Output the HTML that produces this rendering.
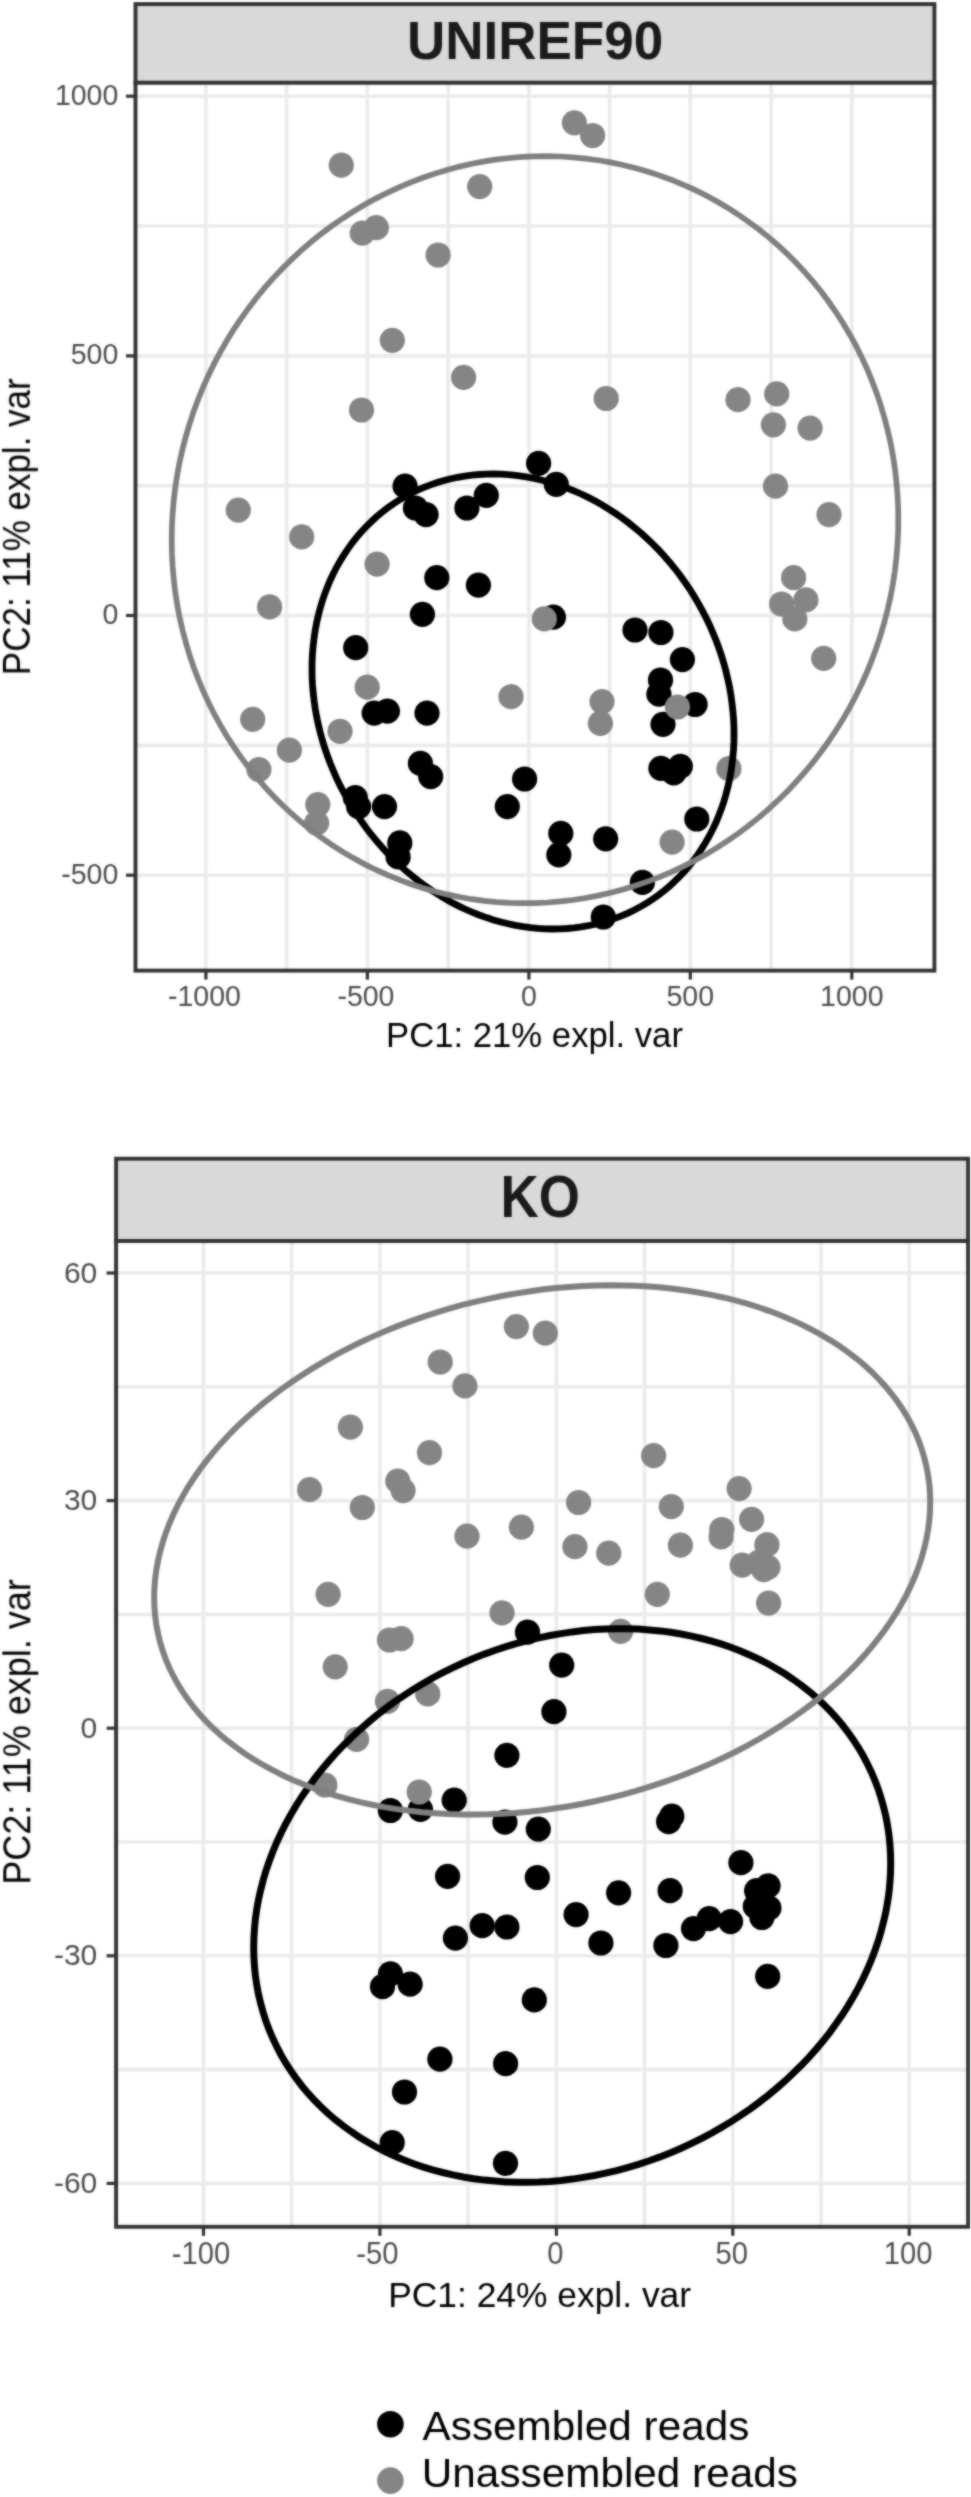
<!DOCTYPE html>
<html>
<head>
<meta charset="utf-8">
<title>PCA plots</title>
<style>
html,body{margin:0;padding:0;background:#fff;}
svg{display:block;font-family:"Liberation Sans",sans-serif;}
</style>
</head>
<body>
<svg width="971" height="2497" viewBox="0 0 971 2497">
<defs><filter id="soft" x="0" y="0" width="971" height="2497" filterUnits="userSpaceOnUse" color-interpolation-filters="sRGB"><feGaussianBlur in="SourceGraphic" stdDeviation="1" result="b"/><feComposite in="SourceGraphic" in2="b" operator="arithmetic" k1="0" k2="0.4" k3="0.6" k4="0"/></filter></defs>
<g filter="url(#soft)">
<rect x="0" y="0" width="971" height="2497" fill="#ffffff"/>
<rect x="135.5" y="4.1" width="798.9" height="78.7" fill="#d9d9d9" stroke="#333333" stroke-width="3.9"/>
<rect x="135.5" y="82.8" width="798.9" height="887.8000000000001" fill="#ffffff"/>
<line x1="205.9" y1="82.8" x2="205.9" y2="970.6" stroke="#ebebeb" stroke-width="3.6"/>
<line x1="286.6" y1="82.8" x2="286.6" y2="970.6" stroke="#ebebeb" stroke-width="3.6"/>
<line x1="367.4" y1="82.8" x2="367.4" y2="970.6" stroke="#ebebeb" stroke-width="3.6"/>
<line x1="448.1" y1="82.8" x2="448.1" y2="970.6" stroke="#ebebeb" stroke-width="3.6"/>
<line x1="528.9" y1="82.8" x2="528.9" y2="970.6" stroke="#ebebeb" stroke-width="3.6"/>
<line x1="609.6" y1="82.8" x2="609.6" y2="970.6" stroke="#ebebeb" stroke-width="3.6"/>
<line x1="690.3" y1="82.8" x2="690.3" y2="970.6" stroke="#ebebeb" stroke-width="3.6"/>
<line x1="771.1" y1="82.8" x2="771.1" y2="970.6" stroke="#ebebeb" stroke-width="3.6"/>
<line x1="851.8" y1="82.8" x2="851.8" y2="970.6" stroke="#ebebeb" stroke-width="3.6"/>
<line x1="135.5" y1="96.2" x2="934.4" y2="96.2" stroke="#ebebeb" stroke-width="3.6"/>
<line x1="135.5" y1="226.0" x2="934.4" y2="226.0" stroke="#ebebeb" stroke-width="3.6"/>
<line x1="135.5" y1="355.9" x2="934.4" y2="355.9" stroke="#ebebeb" stroke-width="3.6"/>
<line x1="135.5" y1="485.7" x2="934.4" y2="485.7" stroke="#ebebeb" stroke-width="3.6"/>
<line x1="135.5" y1="615.5" x2="934.4" y2="615.5" stroke="#ebebeb" stroke-width="3.6"/>
<line x1="135.5" y1="745.4" x2="934.4" y2="745.4" stroke="#ebebeb" stroke-width="3.6"/>
<line x1="135.5" y1="875.2" x2="934.4" y2="875.2" stroke="#ebebeb" stroke-width="3.6"/>
<clipPath id="cUNIREF90"><rect x="135.5" y="82.8" width="798.9" height="887.8000000000001"/></clipPath>
<g clip-path="url(#cUNIREF90)">
<g fill="#000000"><circle cx="405.1" cy="486.2" r="12.6"/><circle cx="415.4" cy="508.0" r="12.6"/><circle cx="426.1" cy="514.6" r="12.6"/><circle cx="466.9" cy="508.0" r="12.6"/><circle cx="486.3" cy="495.3" r="12.6"/><circle cx="538.6" cy="463.3" r="12.6"/><circle cx="556.3" cy="484.3" r="12.6"/><circle cx="436.8" cy="577.7" r="12.6"/><circle cx="478.4" cy="585.1" r="12.6"/><circle cx="422.4" cy="614.3" r="12.6"/><circle cx="355.7" cy="647.7" r="12.6"/><circle cx="553.4" cy="617.2" r="12.6"/><circle cx="635.0" cy="630.0" r="12.6"/><circle cx="660.9" cy="632.5" r="12.6"/><circle cx="682.4" cy="659.6" r="12.6"/><circle cx="660.5" cy="680.0" r="12.6"/><circle cx="658.9" cy="694.2" r="12.6"/><circle cx="695.1" cy="704.5" r="12.6"/><circle cx="663.0" cy="724.3" r="12.6"/><circle cx="660.9" cy="768.3" r="12.6"/><circle cx="680.3" cy="766.3" r="12.6"/><circle cx="673.7" cy="772.9" r="12.6"/><circle cx="696.8" cy="819.0" r="12.6"/><circle cx="560.8" cy="833.4" r="12.6"/><circle cx="558.8" cy="854.8" r="12.6"/><circle cx="605.7" cy="838.8" r="12.6"/><circle cx="642.4" cy="882.4" r="12.6"/><circle cx="603.3" cy="917.0" r="12.6"/><circle cx="374.2" cy="713.1" r="12.6"/><circle cx="387.4" cy="711.1" r="12.6"/><circle cx="427.0" cy="713.1" r="12.6"/><circle cx="420.4" cy="763.4" r="12.6"/><circle cx="430.7" cy="776.6" r="12.6"/><circle cx="524.6" cy="779.0" r="12.6"/><circle cx="507.3" cy="806.6" r="12.6"/><circle cx="355.3" cy="797.6" r="12.6"/><circle cx="358.6" cy="806.6" r="12.6"/><circle cx="384.5" cy="806.6" r="12.6"/><circle cx="399.8" cy="842.9" r="12.6"/><circle cx="398.1" cy="856.9" r="12.6"/></g>
<g fill="#858585"><circle cx="341.3" cy="165.2" r="12.6"/><circle cx="479.7" cy="186.6" r="12.6"/><circle cx="362.3" cy="233.2" r="12.6"/><circle cx="376.3" cy="227.7" r="12.6"/><circle cx="438.1" cy="255.0" r="12.6"/><circle cx="392.3" cy="340.3" r="12.6"/><circle cx="463.6" cy="377.4" r="12.6"/><circle cx="574.4" cy="122.8" r="12.6"/><circle cx="592.6" cy="135.5" r="12.6"/><circle cx="361.5" cy="410.0" r="12.6"/><circle cx="238.3" cy="510.1" r="12.6"/><circle cx="301.7" cy="536.9" r="12.6"/><circle cx="377.1" cy="564.1" r="12.6"/><circle cx="269.6" cy="606.9" r="12.6"/><circle cx="606.2" cy="398.5" r="12.6"/><circle cx="738.0" cy="399.7" r="12.6"/><circle cx="776.7" cy="393.9" r="12.6"/><circle cx="773.4" cy="424.8" r="12.6"/><circle cx="810.1" cy="428.1" r="12.6"/><circle cx="775.5" cy="486.2" r="12.6"/><circle cx="829.0" cy="514.6" r="12.6"/><circle cx="793.6" cy="577.7" r="12.6"/><circle cx="781.6" cy="604.0" r="12.6"/><circle cx="805.9" cy="599.9" r="12.6"/><circle cx="794.8" cy="618.9" r="12.6"/><circle cx="823.7" cy="658.4" r="12.6"/><circle cx="544.3" cy="618.9" r="12.6"/><circle cx="367.2" cy="687.2" r="12.6"/><circle cx="252.7" cy="719.3" r="12.6"/><circle cx="511.0" cy="696.7" r="12.6"/><circle cx="340.0" cy="731.3" r="12.6"/><circle cx="289.4" cy="750.2" r="12.6"/><circle cx="258.9" cy="769.6" r="12.6"/><circle cx="317.8" cy="804.6" r="12.6"/><circle cx="316.6" cy="823.1" r="12.6"/><circle cx="602.0" cy="701.6" r="12.6"/><circle cx="600.4" cy="723.4" r="12.6"/><circle cx="677.4" cy="707.0" r="12.6"/><circle cx="728.9" cy="768.7" r="12.6"/><circle cx="672.1" cy="842.1" r="12.6"/></g>
<path d="M734.0,734.1 L733.9,741.9 L733.5,749.7 L732.8,757.4 L731.9,765.1 L730.8,772.7 L729.4,780.2 L727.7,787.6 L725.8,794.9 L723.7,802.0 L721.3,809.1 L718.6,816.0 L715.8,822.8 L712.6,829.5 L709.3,836.0 L705.7,842.3 L701.9,848.4 L697.9,854.4 L693.7,860.2 L689.3,865.8 L684.6,871.2 L679.8,876.4 L674.8,881.3 L669.6,886.1 L664.2,890.6 L658.6,894.9 L652.9,899.0 L647.0,902.8 L641.0,906.4 L634.8,909.7 L628.5,912.8 L622.1,915.6 L615.5,918.1 L608.8,920.4 L602.0,922.5 L595.2,924.2 L588.2,925.7 L581.2,926.9 L574.0,927.8 L566.9,928.5 L559.6,928.9 L552.4,929.0 L545.1,928.8 L537.7,928.4 L530.4,927.7 L523.0,926.7 L515.6,925.4 L508.3,923.8 L500.9,922.0 L493.6,919.9 L486.4,917.6 L479.1,915.0 L472.0,912.1 L464.8,909.0 L457.8,905.6 L450.8,901.9 L444.0,898.1 L437.2,893.9 L430.5,889.6 L423.9,885.0 L417.5,880.2 L411.2,875.2 L405.0,870.0 L399.0,864.5 L393.1,858.9 L387.4,853.1 L381.8,847.0 L376.4,840.8 L371.2,834.5 L366.2,828.0 L361.4,821.3 L356.7,814.5 L352.3,807.5 L348.1,800.4 L344.1,793.2 L340.3,785.9 L336.7,778.5 L333.4,770.9 L330.2,763.3 L327.4,755.7 L324.7,747.9 L322.3,740.1 L320.2,732.3 L318.3,724.4 L316.6,716.5 L315.2,708.5 L314.1,700.6 L313.2,692.7 L312.5,684.7 L312.1,676.8 L312.0,668.9 L312.1,661.1 L312.5,653.3 L313.2,645.6 L314.1,637.9 L315.2,630.3 L316.6,622.8 L318.3,615.4 L320.2,608.1 L322.3,601.0 L324.7,593.9 L327.4,587.0 L330.2,580.2 L333.4,573.5 L336.7,567.0 L340.3,560.7 L344.1,554.6 L348.1,548.6 L352.3,542.8 L356.7,537.2 L361.4,531.8 L366.2,526.6 L371.2,521.7 L376.4,516.9 L381.8,512.4 L387.4,508.1 L393.1,504.0 L399.0,500.2 L405.0,496.6 L411.2,493.3 L417.5,490.2 L423.9,487.4 L430.5,484.9 L437.2,482.6 L444.0,480.5 L450.8,478.8 L457.8,477.3 L464.8,476.1 L472.0,475.2 L479.1,474.5 L486.4,474.1 L493.6,474.0 L500.9,474.2 L508.3,474.6 L515.6,475.3 L523.0,476.3 L530.4,477.6 L537.7,479.2 L545.1,481.0 L552.4,483.1 L559.6,485.4 L566.9,488.0 L574.0,490.9 L581.2,494.0 L588.2,497.4 L595.2,501.1 L602.0,504.9 L608.8,509.1 L615.5,513.4 L622.1,518.0 L628.5,522.8 L634.8,527.8 L641.0,533.0 L647.0,538.5 L652.9,544.1 L658.6,549.9 L664.2,556.0 L669.6,562.2 L674.8,568.5 L679.8,575.0 L684.6,581.7 L689.3,588.5 L693.7,595.5 L697.9,602.6 L701.9,609.8 L705.7,617.1 L709.3,624.5 L712.6,632.1 L715.8,639.7 L718.6,647.3 L721.3,655.1 L723.7,662.9 L725.8,670.7 L727.7,678.6 L729.4,686.5 L730.8,694.5 L731.9,702.4 L732.8,710.3 L733.5,718.3 L733.9,726.2 Z" fill="none" stroke="#000000" stroke-width="6.8"/>
<path d="M898.3,519.5 L898.1,532.6 L897.4,545.6 L896.3,558.6 L894.8,571.6 L892.8,584.5 L890.4,597.4 L887.5,610.1 L884.2,622.8 L880.5,635.4 L876.4,647.8 L871.8,660.1 L866.9,672.3 L861.5,684.2 L855.8,696.0 L849.6,707.6 L843.1,718.9 L836.2,730.0 L828.9,740.9 L821.3,751.5 L813.3,761.9 L805.0,772.0 L796.3,781.7 L787.4,791.2 L778.1,800.3 L768.5,809.2 L758.7,817.6 L748.5,825.8 L738.2,833.5 L727.5,840.9 L716.7,847.9 L705.6,854.6 L694.3,860.8 L682.8,866.6 L671.1,872.1 L659.3,877.1 L647.3,881.6 L635.1,885.8 L622.9,889.5 L610.5,892.8 L598.1,895.6 L585.6,898.0 L573.0,900.0 L560.3,901.4 L547.7,902.5 L535.0,903.1 L522.3,903.2 L509.7,902.9 L497.0,902.1 L484.4,900.8 L471.9,899.2 L459.5,897.0 L447.1,894.4 L434.9,891.4 L422.7,887.9 L410.7,884.0 L398.9,879.7 L387.2,874.9 L375.7,869.7 L364.4,864.1 L353.4,858.1 L342.5,851.7 L331.8,844.9 L321.5,837.7 L311.3,830.2 L301.5,822.3 L291.9,814.0 L282.6,805.3 L273.7,796.4 L265.0,787.1 L256.7,777.5 L248.7,767.6 L241.1,757.4 L233.8,746.9 L226.9,736.2 L220.4,725.2 L214.2,714.0 L208.5,702.5 L203.1,690.9 L198.2,679.0 L193.6,667.0 L189.5,654.8 L185.8,642.4 L182.5,629.9 L179.6,617.3 L177.2,604.6 L175.2,591.7 L173.7,578.9 L172.6,565.9 L171.9,552.9 L171.7,539.9 L171.9,526.8 L172.6,513.8 L173.7,500.8 L175.2,487.8 L177.2,474.9 L179.6,462.0 L182.5,449.3 L185.8,436.6 L189.5,424.0 L193.6,411.6 L198.2,399.3 L203.1,387.1 L208.5,375.2 L214.2,363.4 L220.4,351.8 L226.9,340.5 L233.8,329.4 L241.1,318.5 L248.7,307.9 L256.7,297.5 L265.0,287.4 L273.7,277.7 L282.6,268.2 L291.9,259.1 L301.5,250.2 L311.3,241.8 L321.5,233.6 L331.8,225.9 L342.5,218.5 L353.3,211.5 L364.4,204.8 L375.7,198.6 L387.2,192.8 L398.9,187.3 L410.7,182.3 L422.7,177.8 L434.9,173.6 L447.1,169.9 L459.5,166.6 L471.9,163.8 L484.4,161.4 L497.0,159.4 L509.7,158.0 L522.3,156.9 L535.0,156.3 L547.7,156.2 L560.3,156.5 L573.0,157.3 L585.6,158.6 L598.1,160.2 L610.5,162.4 L622.9,165.0 L635.1,168.0 L647.3,171.5 L659.3,175.4 L671.1,179.7 L682.8,184.5 L694.3,189.7 L705.6,195.3 L716.7,201.3 L727.5,207.7 L738.2,214.5 L748.5,221.7 L758.7,229.2 L768.5,237.1 L778.1,245.4 L787.4,254.1 L796.3,263.0 L805.0,272.3 L813.3,281.9 L821.3,291.8 L828.9,302.0 L836.2,312.5 L843.1,323.2 L849.6,334.2 L855.8,345.4 L861.5,356.9 L866.9,368.5 L871.8,380.4 L876.4,392.4 L880.5,404.6 L884.2,417.0 L887.5,429.5 L890.4,442.1 L892.8,454.8 L894.8,467.7 L896.3,480.5 L897.4,493.5 L898.1,506.5 Z" fill="none" stroke="#7f7f7f" stroke-width="5.7"/>
</g>
<rect x="135.5" y="82.8" width="798.9" height="887.8000000000001" fill="none" stroke="#333333" stroke-width="3.9"/>
<line x1="205.9" y1="970.6" x2="205.9" y2="979.6" stroke="#333333" stroke-width="3.2"/>
<text transform="translate(204.4,1006.2) scale(1,1.06)" font-size="28.5" fill="#4d4d4d" text-anchor="middle">-1000</text>
<line x1="367.4" y1="970.6" x2="367.4" y2="979.6" stroke="#333333" stroke-width="3.2"/>
<text transform="translate(365.9,1006.2) scale(1,1.06)" font-size="28.5" fill="#4d4d4d" text-anchor="middle">-500</text>
<line x1="528.9" y1="970.6" x2="528.9" y2="979.6" stroke="#333333" stroke-width="3.2"/>
<text transform="translate(528.9,1006.2) scale(1,1.06)" font-size="28.5" fill="#4d4d4d" text-anchor="middle">0</text>
<line x1="690.3" y1="970.6" x2="690.3" y2="979.6" stroke="#333333" stroke-width="3.2"/>
<text transform="translate(690.3,1006.2) scale(1,1.06)" font-size="28.5" fill="#4d4d4d" text-anchor="middle">500</text>
<line x1="851.8" y1="970.6" x2="851.8" y2="979.6" stroke="#333333" stroke-width="3.2"/>
<text transform="translate(851.8,1006.2) scale(1,1.06)" font-size="28.5" fill="#4d4d4d" text-anchor="middle">1000</text>
<line x1="126.0" y1="96.2" x2="135.5" y2="96.2" stroke="#333333" stroke-width="3.2"/>
<text transform="translate(118.3,104.6) scale(1,1.03)" font-size="28.5" fill="#4d4d4d" text-anchor="end">1000</text>
<line x1="126.0" y1="355.9" x2="135.5" y2="355.9" stroke="#333333" stroke-width="3.2"/>
<text transform="translate(118.3,364.3) scale(1,1.03)" font-size="28.5" fill="#4d4d4d" text-anchor="end">500</text>
<line x1="126.0" y1="615.5" x2="135.5" y2="615.5" stroke="#333333" stroke-width="3.2"/>
<text transform="translate(118.3,623.9) scale(1,1.03)" font-size="28.5" fill="#4d4d4d" text-anchor="end">0</text>
<line x1="126.0" y1="875.2" x2="135.5" y2="875.2" stroke="#333333" stroke-width="3.2"/>
<text transform="translate(118.3,883.6) scale(1,1.03)" font-size="28.5" fill="#4d4d4d" text-anchor="end">-500</text>
<text transform="translate(535.0,58.5) scale(1,1.0)" font-size="53" font-weight="bold" fill="#1a1a1a" text-anchor="middle">UNIREF90</text>
<text x="534.5" y="1047.0" font-size="34.7" fill="#000" text-anchor="middle">PC1: 21% expl. var</text>
<text transform="translate(30,526.7) rotate(-90) scale(1,1.12)" font-size="35.0" fill="#000" text-anchor="middle">PC2: 11% expl. var</text>
<rect x="116.1" y="1158.7" width="852.0" height="82.29999999999995" fill="#d9d9d9" stroke="#333333" stroke-width="3.9"/>
<rect x="116.1" y="1241.0" width="852.0" height="985.8000000000002" fill="#ffffff"/>
<line x1="203.5" y1="1241.0" x2="203.5" y2="2226.8" stroke="#ebebeb" stroke-width="3.6"/>
<line x1="291.7" y1="1241.0" x2="291.7" y2="2226.8" stroke="#ebebeb" stroke-width="3.6"/>
<line x1="379.9" y1="1241.0" x2="379.9" y2="2226.8" stroke="#ebebeb" stroke-width="3.6"/>
<line x1="468.1" y1="1241.0" x2="468.1" y2="2226.8" stroke="#ebebeb" stroke-width="3.6"/>
<line x1="556.3" y1="1241.0" x2="556.3" y2="2226.8" stroke="#ebebeb" stroke-width="3.6"/>
<line x1="644.5" y1="1241.0" x2="644.5" y2="2226.8" stroke="#ebebeb" stroke-width="3.6"/>
<line x1="732.8" y1="1241.0" x2="732.8" y2="2226.8" stroke="#ebebeb" stroke-width="3.6"/>
<line x1="821.0" y1="1241.0" x2="821.0" y2="2226.8" stroke="#ebebeb" stroke-width="3.6"/>
<line x1="909.2" y1="1241.0" x2="909.2" y2="2226.8" stroke="#ebebeb" stroke-width="3.6"/>
<line x1="116.1" y1="1273.0" x2="968.1" y2="1273.0" stroke="#ebebeb" stroke-width="3.6"/>
<line x1="116.1" y1="1386.8" x2="968.1" y2="1386.8" stroke="#ebebeb" stroke-width="3.6"/>
<line x1="116.1" y1="1500.6" x2="968.1" y2="1500.6" stroke="#ebebeb" stroke-width="3.6"/>
<line x1="116.1" y1="1614.4" x2="968.1" y2="1614.4" stroke="#ebebeb" stroke-width="3.6"/>
<line x1="116.1" y1="1728.2" x2="968.1" y2="1728.2" stroke="#ebebeb" stroke-width="3.6"/>
<line x1="116.1" y1="1842.0" x2="968.1" y2="1842.0" stroke="#ebebeb" stroke-width="3.6"/>
<line x1="116.1" y1="1955.8" x2="968.1" y2="1955.8" stroke="#ebebeb" stroke-width="3.6"/>
<line x1="116.1" y1="2069.6" x2="968.1" y2="2069.6" stroke="#ebebeb" stroke-width="3.6"/>
<line x1="116.1" y1="2183.4" x2="968.1" y2="2183.4" stroke="#ebebeb" stroke-width="3.6"/>
<clipPath id="cKO"><rect x="116.1" y="1241.0" width="852.0" height="985.8000000000002"/></clipPath>
<g clip-path="url(#cKO)">
<g fill="#000000"><circle cx="527.5" cy="1632.2" r="12.6"/><circle cx="506.9" cy="1755.3" r="12.6"/><circle cx="454.2" cy="1800.2" r="12.6"/><circle cx="390.4" cy="1810.5" r="12.6"/><circle cx="420.4" cy="1809.3" r="12.6"/><circle cx="504.9" cy="1822.1" r="12.6"/><circle cx="538.3" cy="1829.1" r="12.6"/><circle cx="561.7" cy="1665.1" r="12.6"/><circle cx="553.9" cy="1711.7" r="12.6"/><circle cx="671.8" cy="1816.2" r="12.6"/><circle cx="668.6" cy="1821.7" r="12.6"/><circle cx="447.6" cy="1876.3" r="12.6"/><circle cx="537.3" cy="1877.5" r="12.6"/><circle cx="482.2" cy="1925.7" r="12.6"/><circle cx="506.9" cy="1927.0" r="12.6"/><circle cx="455.4" cy="1938.1" r="12.6"/><circle cx="390.4" cy="1973.9" r="12.6"/><circle cx="382.5" cy="1986.7" r="12.6"/><circle cx="410.1" cy="1984.2" r="12.6"/><circle cx="534.3" cy="1999.9" r="12.6"/><circle cx="439.9" cy="2059.2" r="12.6"/><circle cx="505.6" cy="2063.7" r="12.6"/><circle cx="404.5" cy="2092.0" r="12.6"/><circle cx="392.2" cy="2142.7" r="12.6"/><circle cx="505.5" cy="2163.3" r="12.6"/><circle cx="740.9" cy="1862.7" r="12.6"/><circle cx="618.6" cy="1892.8" r="12.6"/><circle cx="670.1" cy="1890.7" r="12.6"/><circle cx="768.1" cy="1885.8" r="12.6"/><circle cx="756.6" cy="1890.7" r="12.6"/><circle cx="768.9" cy="1908.0" r="12.6"/><circle cx="755.3" cy="1906.4" r="12.6"/><circle cx="761.9" cy="1917.5" r="12.6"/><circle cx="576.1" cy="1914.6" r="12.6"/><circle cx="600.9" cy="1943.0" r="12.6"/><circle cx="665.9" cy="1945.5" r="12.6"/><circle cx="693.5" cy="1928.6" r="12.6"/><circle cx="709.2" cy="1918.7" r="12.6"/><circle cx="730.6" cy="1921.6" r="12.6"/><circle cx="767.7" cy="1976.4" r="12.6"/></g>
<g fill="#858585"><circle cx="516.4" cy="1326.6" r="12.6"/><circle cx="545.3" cy="1333.2" r="12.6"/><circle cx="440.2" cy="1362.0" r="12.6"/><circle cx="464.9" cy="1385.9" r="12.6"/><circle cx="350.4" cy="1427.1" r="12.6"/><circle cx="429.5" cy="1452.7" r="12.6"/><circle cx="309.6" cy="1489.7" r="12.6"/><circle cx="397.8" cy="1481.1" r="12.6"/><circle cx="403.1" cy="1490.6" r="12.6"/><circle cx="362.3" cy="1507.5" r="12.6"/><circle cx="467.0" cy="1536.2" r="12.6"/><circle cx="521.4" cy="1527.2" r="12.6"/><circle cx="653.6" cy="1455.6" r="12.6"/><circle cx="739.1" cy="1488.6" r="12.6"/><circle cx="578.6" cy="1502.5" r="12.6"/><circle cx="671.3" cy="1506.6" r="12.6"/><circle cx="751.6" cy="1519.4" r="12.6"/><circle cx="721.8" cy="1529.5" r="12.6"/><circle cx="721.1" cy="1536.9" r="12.6"/><circle cx="766.9" cy="1544.7" r="12.6"/><circle cx="574.9" cy="1546.7" r="12.6"/><circle cx="608.7" cy="1553.2" r="12.6"/><circle cx="680.4" cy="1545.2" r="12.6"/><circle cx="742.2" cy="1565.2" r="12.6"/><circle cx="759.1" cy="1562.2" r="12.6"/><circle cx="767.9" cy="1567.3" r="12.6"/><circle cx="763.8" cy="1569.7" r="12.6"/><circle cx="657.3" cy="1594.3" r="12.6"/><circle cx="768.6" cy="1603.1" r="12.6"/><circle cx="620.6" cy="1631.3" r="12.6"/><circle cx="328.1" cy="1594.3" r="12.6"/><circle cx="502.0" cy="1612.8" r="12.6"/><circle cx="389.5" cy="1640.0" r="12.6"/><circle cx="401.1" cy="1638.7" r="12.6"/><circle cx="335.2" cy="1666.8" r="12.6"/><circle cx="387.5" cy="1701.4" r="12.6"/><circle cx="427.8" cy="1693.9" r="12.6"/><circle cx="356.6" cy="1739.3" r="12.6"/><circle cx="324.9" cy="1785.0" r="12.6"/><circle cx="419.2" cy="1792.0" r="12.6"/></g>
<path d="M890.7,1863.4 L890.5,1873.0 L889.9,1882.6 L889.0,1892.3 L887.6,1901.9 L885.9,1911.6 L883.7,1921.2 L881.2,1930.9 L878.4,1940.5 L875.1,1950.0 L871.5,1959.5 L867.5,1969.0 L863.2,1978.3 L858.5,1987.6 L853.4,1996.8 L848.0,2005.9 L842.3,2014.8 L836.2,2023.6 L829.9,2032.3 L823.2,2040.8 L816.2,2049.1 L808.9,2057.3 L801.3,2065.3 L793.4,2073.1 L785.3,2080.7 L776.9,2088.0 L768.3,2095.2 L759.4,2102.1 L750.3,2108.8 L741.0,2115.2 L731.5,2121.4 L721.7,2127.3 L711.8,2133.0 L701.7,2138.3 L691.5,2143.4 L681.1,2148.2 L670.6,2152.7 L660.0,2156.9 L649.3,2160.8 L638.4,2164.4 L627.5,2167.6 L616.5,2170.6 L605.5,2173.2 L594.4,2175.5 L583.3,2177.4 L572.2,2179.1 L561.1,2180.4 L550.0,2181.4 L538.9,2182.0 L527.9,2182.3 L516.9,2182.2 L506.0,2181.9 L495.1,2181.1 L484.4,2180.1 L473.8,2178.7 L463.3,2177.0 L452.9,2174.9 L442.7,2172.5 L432.6,2169.8 L422.7,2166.8 L413.0,2163.5 L403.4,2159.8 L394.1,2155.8 L385.0,2151.6 L376.1,2147.0 L367.5,2142.1 L359.1,2137.0 L351.0,2131.5 L343.1,2125.8 L335.5,2119.8 L328.2,2113.6 L321.2,2107.1 L314.5,2100.3 L308.2,2093.4 L302.1,2086.2 L296.4,2078.7 L291.0,2071.1 L285.9,2063.2 L281.2,2055.2 L276.9,2047.0 L272.9,2038.6 L269.3,2030.1 L266.0,2021.4 L263.2,2012.5 L260.7,2003.5 L258.5,1994.4 L256.8,1985.2 L255.4,1975.9 L254.5,1966.6 L253.9,1957.1 L253.7,1947.6 L253.9,1938.0 L254.5,1928.4 L255.4,1918.7 L256.8,1909.1 L258.5,1899.4 L260.7,1889.8 L263.2,1880.1 L266.0,1870.5 L269.3,1861.0 L272.9,1851.5 L276.9,1842.0 L281.2,1832.7 L285.9,1823.4 L291.0,1814.2 L296.4,1805.1 L302.1,1796.2 L308.2,1787.4 L314.5,1778.7 L321.2,1770.2 L328.2,1761.9 L335.5,1753.7 L343.1,1745.7 L351.0,1737.9 L359.1,1730.3 L367.5,1723.0 L376.1,1715.8 L385.0,1708.9 L394.1,1702.2 L403.4,1695.8 L412.9,1689.6 L422.7,1683.7 L432.6,1678.0 L442.7,1672.7 L452.9,1667.6 L463.3,1662.8 L473.8,1658.3 L484.4,1654.1 L495.1,1650.2 L506.0,1646.6 L516.9,1643.4 L527.9,1640.4 L538.9,1637.8 L550.0,1635.5 L561.1,1633.6 L572.2,1631.9 L583.3,1630.6 L594.4,1629.6 L605.5,1629.0 L616.5,1628.7 L627.5,1628.8 L638.4,1629.1 L649.3,1629.9 L660.0,1630.9 L670.6,1632.3 L681.1,1634.0 L691.5,1636.1 L701.7,1638.5 L711.8,1641.2 L721.7,1644.2 L731.5,1647.5 L741.0,1651.2 L750.3,1655.2 L759.4,1659.4 L768.3,1664.0 L776.9,1668.9 L785.3,1674.0 L793.4,1679.5 L801.3,1685.2 L808.9,1691.2 L816.2,1697.4 L823.2,1703.9 L829.9,1710.7 L836.2,1717.6 L842.3,1724.8 L848.0,1732.3 L853.4,1739.9 L858.5,1747.8 L863.2,1755.8 L867.5,1764.0 L871.5,1772.4 L875.1,1780.9 L878.4,1789.6 L881.2,1798.5 L883.7,1807.5 L885.9,1816.6 L887.6,1825.8 L889.0,1835.1 L889.9,1844.4 L890.5,1853.9 Z" fill="none" stroke="#000000" stroke-width="7.0"/>
<path d="M930.2,1502.2 L930.0,1511.3 L929.3,1520.5 L928.1,1529.7 L926.4,1538.9 L924.3,1548.1 L921.7,1557.4 L918.7,1566.6 L915.2,1575.8 L911.2,1585.0 L906.8,1594.1 L901.9,1603.2 L896.7,1612.2 L890.9,1621.1 L884.8,1630.0 L878.2,1638.7 L871.2,1647.4 L863.9,1655.9 L856.1,1664.3 L847.9,1672.6 L839.4,1680.7 L830.5,1688.6 L821.3,1696.4 L811.7,1704.0 L801.8,1711.4 L791.6,1718.6 L781.1,1725.6 L770.3,1732.4 L759.2,1739.0 L747.8,1745.4 L736.2,1751.5 L724.4,1757.3 L712.3,1762.9 L700.0,1768.3 L687.5,1773.4 L674.9,1778.2 L662.1,1782.7 L649.1,1786.9 L636.1,1790.9 L622.9,1794.6 L609.6,1797.9 L596.2,1801.0 L582.8,1803.8 L569.3,1806.2 L555.7,1808.3 L542.2,1810.2 L528.7,1811.7 L515.1,1812.9 L501.6,1813.7 L488.2,1814.3 L474.8,1814.5 L461.5,1814.4 L448.3,1814.0 L435.3,1813.2 L422.3,1812.2 L409.5,1810.8 L396.9,1809.1 L384.4,1807.1 L372.1,1804.7 L360.0,1802.1 L348.2,1799.1 L336.6,1795.9 L325.2,1792.3 L314.1,1788.5 L303.3,1784.3 L292.8,1779.9 L282.6,1775.2 L272.7,1770.2 L263.1,1765.0 L253.9,1759.5 L245.0,1753.7 L236.5,1747.7 L228.3,1741.5 L220.5,1735.0 L213.2,1728.3 L206.2,1721.3 L199.6,1714.2 L193.5,1706.8 L187.7,1699.3 L182.5,1691.6 L177.6,1683.7 L173.2,1675.7 L169.2,1667.5 L165.7,1659.1 L162.7,1650.7 L160.1,1642.1 L158.0,1633.3 L156.3,1624.5 L155.1,1615.6 L154.4,1606.6 L154.2,1597.6 L154.4,1588.5 L155.1,1579.3 L156.3,1570.1 L158.0,1560.9 L160.1,1551.7 L162.7,1542.4 L165.7,1533.2 L169.2,1524.0 L173.2,1514.8 L177.6,1505.7 L182.5,1496.6 L187.7,1487.6 L193.5,1478.7 L199.6,1469.8 L206.2,1461.1 L213.2,1452.4 L220.5,1443.9 L228.3,1435.5 L236.5,1427.2 L245.0,1419.1 L253.9,1411.2 L263.1,1403.4 L272.7,1395.8 L282.6,1388.4 L292.8,1381.2 L303.3,1374.2 L314.1,1367.4 L325.2,1360.8 L336.6,1354.4 L348.2,1348.3 L360.0,1342.5 L372.1,1336.9 L384.4,1331.5 L396.9,1326.4 L409.5,1321.6 L422.3,1317.1 L435.3,1312.9 L448.3,1308.9 L461.5,1305.2 L474.8,1301.9 L488.2,1298.8 L501.6,1296.0 L515.1,1293.6 L528.7,1291.5 L542.2,1289.6 L555.7,1288.1 L569.3,1286.9 L582.8,1286.1 L596.2,1285.5 L609.6,1285.3 L622.9,1285.4 L636.1,1285.8 L649.1,1286.6 L662.1,1287.6 L674.9,1289.0 L687.5,1290.7 L700.0,1292.7 L712.3,1295.1 L724.4,1297.7 L736.2,1300.7 L747.8,1303.9 L759.2,1307.5 L770.3,1311.3 L781.1,1315.5 L791.6,1319.9 L801.8,1324.6 L811.7,1329.6 L821.3,1334.8 L830.5,1340.3 L839.4,1346.1 L847.9,1352.1 L856.1,1358.3 L863.9,1364.8 L871.2,1371.5 L878.2,1378.5 L884.8,1385.6 L890.9,1393.0 L896.7,1400.5 L901.9,1408.2 L906.8,1416.1 L911.2,1424.1 L915.2,1432.3 L918.7,1440.7 L921.7,1449.1 L924.3,1457.7 L926.4,1466.5 L928.1,1475.3 L929.3,1484.2 L930.0,1493.2 Z" fill="none" stroke="#7f7f7f" stroke-width="6.0"/>
</g>
<rect x="116.1" y="1241.0" width="852.0" height="985.8000000000002" fill="none" stroke="#333333" stroke-width="3.9"/>
<line x1="203.5" y1="2226.8" x2="203.5" y2="2235.8" stroke="#333333" stroke-width="3.2"/>
<text transform="translate(201.0,2263.8) scale(1,1.09)" font-size="29.2" fill="#4d4d4d" text-anchor="middle">-100</text>
<line x1="379.9" y1="2226.8" x2="379.9" y2="2235.8" stroke="#333333" stroke-width="3.2"/>
<text transform="translate(377.4,2263.8) scale(1,1.09)" font-size="29.2" fill="#4d4d4d" text-anchor="middle">-50</text>
<line x1="556.4" y1="2226.8" x2="556.4" y2="2235.8" stroke="#333333" stroke-width="3.2"/>
<text transform="translate(555.4,2263.8) scale(1,1.09)" font-size="29.2" fill="#4d4d4d" text-anchor="middle">0</text>
<line x1="732.8" y1="2226.8" x2="732.8" y2="2235.8" stroke="#333333" stroke-width="3.2"/>
<text transform="translate(731.8,2263.8) scale(1,1.09)" font-size="29.2" fill="#4d4d4d" text-anchor="middle">50</text>
<line x1="909.2" y1="2226.8" x2="909.2" y2="2235.8" stroke="#333333" stroke-width="3.2"/>
<text transform="translate(908.2,2263.8) scale(1,1.09)" font-size="29.2" fill="#4d4d4d" text-anchor="middle">100</text>
<line x1="106.6" y1="1273.0" x2="116.1" y2="1273.0" stroke="#333333" stroke-width="3.2"/>
<text transform="translate(97.3,1282.6) scale(1,1.0)" font-size="30.0" fill="#4d4d4d" text-anchor="end">60</text>
<line x1="106.6" y1="1500.6" x2="116.1" y2="1500.6" stroke="#333333" stroke-width="3.2"/>
<text transform="translate(97.3,1510.2) scale(1,1.0)" font-size="30.0" fill="#4d4d4d" text-anchor="end">30</text>
<line x1="106.6" y1="1728.2" x2="116.1" y2="1728.2" stroke="#333333" stroke-width="3.2"/>
<text transform="translate(97.3,1737.8) scale(1,1.0)" font-size="30.0" fill="#4d4d4d" text-anchor="end">0</text>
<line x1="106.6" y1="1955.8" x2="116.1" y2="1955.8" stroke="#333333" stroke-width="3.2"/>
<text transform="translate(97.3,1965.4) scale(1,1.0)" font-size="30.0" fill="#4d4d4d" text-anchor="end">-30</text>
<line x1="106.6" y1="2183.4" x2="116.1" y2="2183.4" stroke="#333333" stroke-width="3.2"/>
<text transform="translate(97.3,2193.0) scale(1,1.0)" font-size="30.0" fill="#4d4d4d" text-anchor="end">-60</text>
<text transform="translate(540.2,1217) scale(1,1.1)" font-size="53" font-weight="bold" fill="#1a1a1a" text-anchor="middle">KO</text>
<text x="539.6" y="2307" font-size="35.4" fill="#000" text-anchor="middle">PC1: 24% expl. var</text>
<text transform="translate(30,1731.9) rotate(-90) scale(1,1.08)" font-size="36.0" fill="#000" text-anchor="middle">PC2: 11% expl. var</text>

<circle cx="390.4" cy="2424.2" r="13.3" fill="#000000"/>
<circle cx="390.4" cy="2480.6" r="13.3" fill="#858585"/>
<text transform="translate(422.6,2439.6) scale(1.06,1)" font-size="39.9" fill="#000">Assembled reads</text>
<text transform="translate(421.8,2487.2) scale(1.06,1)" font-size="39.9" fill="#000">Unassembled reads</text>

</g>
</svg>
</body>
</html>
